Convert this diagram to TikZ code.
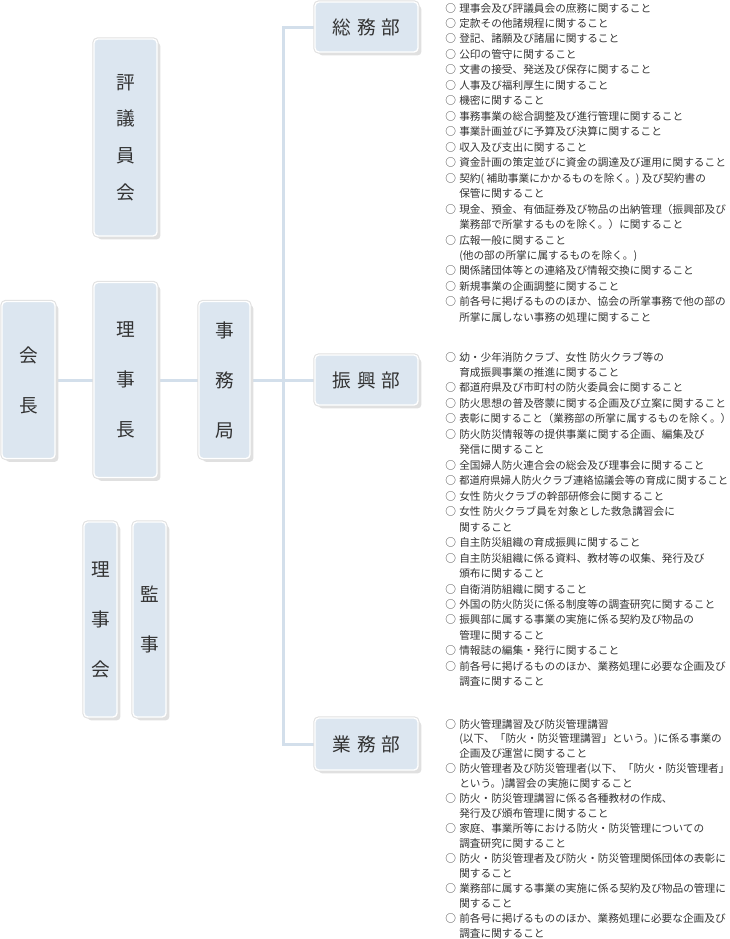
\documentclass[tikz,border=0pt]{standalone}
\usepackage{fontspec}
\setmainfont{Noto Sans CJK JP}
\usepackage{graphicx}
\usetikzlibrary{shadows,backgrounds}

\definecolor{boxfill}{HTML}{DCE6F0}
\definecolor{linkblue}{HTML}{D3DFEB}
\definecolor{shadowgray}{HTML}{E0E0E0}
\definecolor{textgray}{HTML}{333333}

\tikzset{
  orgbox/.style={fill=boxfill, draw=white, line width=1pt, rounded corners=3pt,
    inner sep=0pt, text=textgray,
    drop shadow={shadow xshift=2.6pt, shadow yshift=-2.6pt, fill=shadowgray, opacity=1},
    preaction={draw=shadowgray, line width=2.6pt}},
  vbox/.style={orgbox, align=center, font=\fontsize{14}{37.5}\selectfont},
  hbox/.style={orgbox, minimum width=77.25pt, minimum height=37.5pt,
    font=\fontsize{14}{16}\selectfont},
  duties/.style={anchor=base west, inner sep=0pt, text=textgray,
    font=\fontsize{8}{11.6}\selectfont},
  link/.style={draw=linkblue, line width=2.25pt},
}

\begin{document}
\begin{tikzpicture}[x=0.75pt, y=-0.75pt]
    \useasboundingbox (0,0) rectangle (730,939);

    % left side
    \node[vbox, font=\fontsize{14}{27.4}\selectfont, minimum width=47.25pt, minimum height=147.75pt] (hyogi) at (125.5,137.5) {評\\議\\員\\会};
    \node[vbox, minimum width=39.75pt, minimum height=117.75pt] (kaicho) at (28.5,380) {会\\長};
    \node[vbox, minimum width=47.25pt, minimum height=146.25pt] (richo) at (125.5,380) {理\\事\\長};
    \node[vbox, minimum width=38.25pt, minimum height=117.75pt] (jimu) at (224.5,380) {事\\務\\局};
    \node[vbox, minimum width=24.75pt, minimum height=146.25pt] (rijikai) at (100.5,619.5) {理\\事\\会};
    \node[vbox, minimum width=24.75pt, minimum height=146.25pt] (kanji) at (149.5,619.5) {監\\事};

    % departments
    \node[hbox] (somu) at (366.5,27) {総\hspace{4.5pt}務\hspace{4.5pt}部};
    \node[hbox] (shinko) at (366.5,380) {振\hspace{4.5pt}興\hspace{4.5pt}部};
    \node[hbox, minimum height=39pt] (gyomu) at (366.5,744) {業\hspace{4.5pt}務\hspace{4.5pt}部};
    \coordinate (trunk) at (283,380);

    \begin{scope}[on background layer]
        \draw[link] (kaicho.east) -- (richo.west);
        \draw[link] (richo.east) -- (jimu.west);
        \draw[link] (jimu.east) -- (shinko.west);
        \draw[link] (somu.west) -| (trunk) |- (gyomu.west);
    \end{scope}

    % duties
    \node[duties] (somulist) at (445,12) {\begin{tabular}[t]{@{}l@{\hspace{2.5pt}}l@{}}
        ○ & 理事会及び評議員会の庶務に関すること\\
        ○ & 定款その他諸規程に関すること\\
        ○ & 登記、諸願及び諸届に関すること\\
        ○ & 公印の管守に関すること\\
        ○ & 文書の接受、発送及び保存に関すること\\
        ○ & 人事及び福利厚生に関すること\\
        ○ & 機密に関すること\\
        ○ & 事務事業の総合調整及び進行管理に関すること\\
        ○ & 事業計画並びに予算及び決算に関すること\\
        ○ & 収入及び支出に関すること\\
        ○ & 資金計画の策定並びに資金の調達及び運用に関すること\\
        ○ & 契約( 補助事業にかかるものを除く。) 及び契約書の\\
          & 保管に関すること\\
        ○ & 現金、預金、有価証券及び物品の出納管理（振興部及び\\
          & 業務部で所掌するものを除く。）に関すること\\
        ○ & 広報一般に関すること\\
          & (他の部の所掌に属するものを除く。)\\
        ○ & 関係諸団体等との連絡及び情報交換に関すること\\
        ○ & 新規事業の企画調整に関すること\\
        ○ & 前各号に掲げるもののほか、協会の所掌事務で他の部の\\
          & 所掌に属しない事務の処理に関すること
    \end{tabular}};

    \node[duties] (shinkolist) at (445,361) {\begin{tabular}[t]{@{}l@{\hspace{2.5pt}}l@{}}
        ○ & 幼・少年消防クラブ、女性 防火クラブ等の\\
          & 育成振興事業の推進に関すること\\
        ○ & 都道府県及び市町村の防火委員会に関すること\\
        ○ & 防火思想の普及啓蒙に関する企画及び立案に関すること\\
        ○ & \scalebox{0.98}[1]{表彰に関すること（業務部の所掌に属するものを除く。）}\\
        ○ & 防火防災情報等の提供事業に関する企画、編集及び\\
          & 発信に関すること\\
        ○ & 全国婦人防火連合会の総会及び理事会に関すること\\
        ○ & \scalebox{0.97}[1]{都道府県婦人防火クラブ連絡協議会等の育成に関すること}\\
        ○ & 女性 防火クラブの幹部研修会に関すること\\
        ○ & 女性 防火クラブ員を対象とした救急講習会に\\
          & 関すること\\
        ○ & 自主防災組織の育成振興に関すること\\
        ○ & 自主防災組織に係る資料、教材等の収集、発行及び\\
          & 頒布に関すること\\
        ○ & 自衛消防組織に関すること\\
        ○ & 外国の防火防災に係る制度等の調査研究に関すること\\
        ○ & 振興部に属する事業の実施に係る契約及び物品の\\
          & 管理に関すること\\
        ○ & 情報誌の編集・発行に関すること\\
        ○ & 前各号に掲げるもののほか、業務処理に必要な企画及び\\
          & 調査に関すること
    \end{tabular}};

    \node[duties, font=\fontsize{8}{11.2}\selectfont] (gyomulist) at (445,728) {\begin{tabular}[t]{@{}l@{\hspace{2.5pt}}l@{}}
        ○ & 防火管理講習及び防災管理講習\\
          & (以下、「防火・防災管理講習」という。)に係る事業の\\
          & 企画及び運営に関すること\\
        ○ & 防火管理者及び防災管理者(以下、「防火・防災管理者」\\
          & という。)講習会の実施に関すること\\
        ○ & 防火・防災管理講習に係る各種教材の作成、\\
          & 発行及び頒布管理に関すること\\
        ○ & 家庭、事業所等における防火・防災管理についての\\
          & 調査研究に関すること\\
        ○ & 防火・防災管理者及び防火・防災管理関係団体の表彰に\\
          & 関すること\\
        ○ & 業務部に属する事業の実施に係る契約及び物品の管理に\\
          & 関すること\\
        ○ & 前各号に掲げるもののほか、業務処理に必要な企画及び\\
          & 調査に関すること
    \end{tabular}};
\end{tikzpicture}
\end{document}
